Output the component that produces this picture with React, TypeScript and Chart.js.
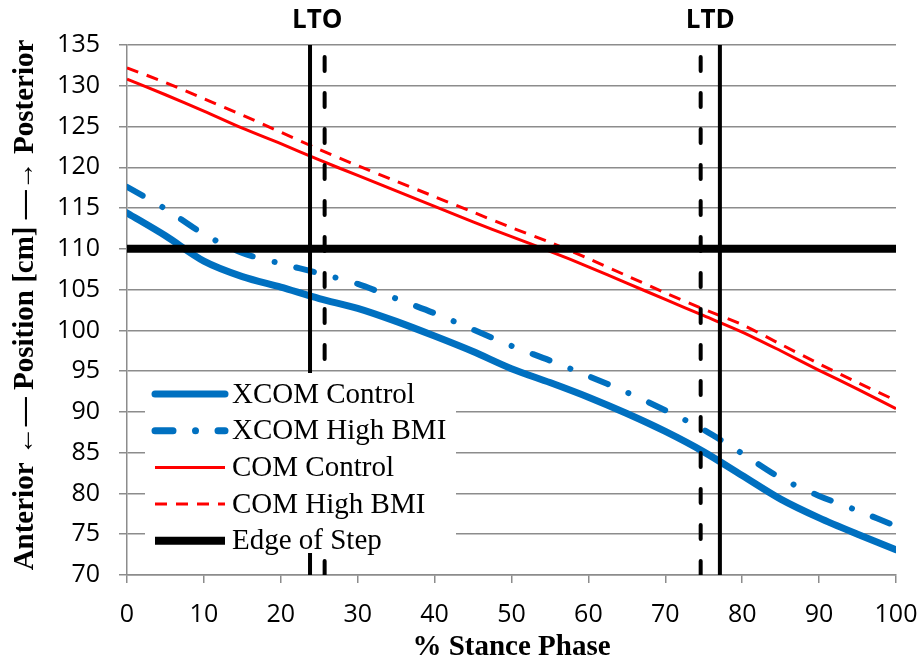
import React, { useEffect, useRef } from "react";
import { Chart, registerables } from "chart.js";

Chart.register(...registerables);

// % of stance phase at which each curve was sampled
const stance = [0, 5, 10, 15, 20, 25, 30, 35, 40, 45, 50, 55, 60, 65, 70, 75, 80, 85, 90, 95, 100];

// Anterior-posterior positions [cm]
const xcomControl = [114.4, 111.6, 108.5, 106.6, 105.3, 103.9, 102.7, 101.1, 99.3, 97.4, 95.3, 93.6, 91.8, 89.8, 87.6, 85.1, 82.2, 79.3, 77.0, 75.0, 73.1];
const xcomHighBmi = [117.6, 114.9, 111.8, 109.5, 108.2, 107.0, 105.7, 103.9, 102.1, 100.1, 98.1, 96.3, 94.4, 92.4, 90.2, 87.8, 84.9, 81.9, 79.7, 77.9, 76.0];
const comControl = [130.8, 128.9, 126.9, 124.8, 122.9, 120.9, 119.0, 117.1, 115.2, 113.3, 111.5, 109.7, 107.8, 105.8, 103.8, 101.8, 99.8, 97.5, 95.1, 92.8, 90.4];
const comHighBmi = [132.2, 130.4, 128.4, 126.4, 124.3, 122.2, 120.2, 118.3, 116.4, 114.5, 112.6, 110.8, 108.8, 106.7, 104.6, 102.6, 100.7, 98.3, 95.9, 93.6, 91.4];

// Edge of the step [cm]
const edgeOfStep = 110;

// Gait events (LTO = lead toe-off, LTD = lead touch-down), % stance
const eventLabels = ["LTO", "LTD"];
const controlEvents = [23.8, 77.1];
const highBmiEvents = [25.7, 74.6];

// Axis ranges
const xMin = 0, xMax = 100, xStep = 10;
const yMin = 70, yMax = 135, yStep = 5;

const BLUE = "#0070C0";
const RED = "#FF0000";
const BLACK = "#000000";
const GRID = "#8c8c8c";
const TICK_FONT = '"Open Sans", sans-serif';

const DASH_DOT = [18, 22.5, 0.01, 22.5];
const RED_DASH = [12, 9];
const EVENT_DASH = [14, 22];

const legendItems = [
  { label: "XCOM Control", color: BLUE, width: 7, dash: [] as number[], cap: "round" as CanvasLineCap },
  { label: "XCOM High BMI", color: BLUE, width: 7, dash: DASH_DOT, cap: "round" as CanvasLineCap },
  { label: "COM Control", color: RED, width: 3, dash: [] as number[], cap: "butt" as CanvasLineCap },
  { label: "COM High BMI", color: RED, width: 3, dash: RED_DASH, cap: "butt" as CanvasLineCap },
  { label: "Edge of Step", color: BLACK, width: 8, dash: [] as number[], cap: "butt" as CanvasLineCap },
];

const toPoints = (ys: number[]) => stance.map((x, i) => ({ x, y: ys[i] }));
const vertical = (x: number) => [{ x, y: yMin }, { x, y: yMax }];

const annotations = {
  id: "annotations",
  afterDatasetsDraw(chart: any) {
    const { ctx, chartArea, scales } = chart;
    const xs = scales.x;
    ctx.save();

    // legend box inside the plot
    const lx = chartArea.left + 18;
    const ly = chartArea.top + 328;
    ctx.fillStyle = "#ffffff";
    ctx.fillRect(lx, ly, 311, 180);
    ctx.font = '29px "Liberation Serif", "Times New Roman", serif';
    ctx.textBaseline = "middle";
    ctx.textAlign = "left";
    legendItems.forEach((item, i) => {
      const y = ly + 21 + i * 36.7;
      ctx.beginPath();
      ctx.strokeStyle = item.color;
      ctx.lineWidth = item.width;
      ctx.lineCap = item.cap;
      ctx.setLineDash(item.dash);
      ctx.moveTo(lx + 10, y);
      ctx.lineTo(lx + 80, y);
      ctx.stroke();
      ctx.setLineDash([]);
      ctx.fillStyle = BLACK;
      ctx.fillText(item.label, lx + 87, y + 1);
    });

    // x tick labels
    ctx.fillStyle = BLACK;
    ctx.textAlign = "center";
    ctx.font = `25px ${TICK_FONT}`;
    for (let v = xMin; v <= xMax; v += xStep) {
      ctx.fillText(String(v), xs.getPixelForValue(v), chartArea.bottom + 40);
    }

    // event labels above the plot
    ctx.font = 'bold 26px "Open Sans", sans-serif';
    eventLabels.forEach((label, i) => {
      const cx = (xs.getPixelForValue(controlEvents[i]) + xs.getPixelForValue(highBmiEvents[i])) / 2;
      ctx.fillText(label, cx, chartArea.top - 24);
    });

    // axis titles
    ctx.font = 'bold 29px "Liberation Serif", "Times New Roman", serif';
    ctx.fillText("% Stance Phase", (chartArea.left + chartArea.right) / 2, 648);
    ctx.translate(26, (chartArea.top + chartArea.bottom) / 2 - 5);
    ctx.rotate(-Math.PI / 2);
    ctx.fillText("Anterior ←— Position [cm] —→ Posterior", 0, 0);
    ctx.restore();
  },
};

export default function App() {
  const canvasRef = useRef<HTMLCanvasElement | null>(null);

  useEffect(() => {
    document.body.style.margin = "0";
    const canvas = canvasRef.current;
    if (!canvas) return;

    const chart = new Chart(canvas, {
      type: "line",
      data: {
        datasets: [
          ...controlEvents.map((x, i) => ({
            label: eventLabels[i] + " Control",
            data: vertical(x),
            borderColor: BLACK,
            borderWidth: 4,
            pointRadius: 0,
            order: 0,
          })),
          ...highBmiEvents.map((x, i) => ({
            label: eventLabels[i] + " High BMI",
            data: vertical(x),
            borderColor: BLACK,
            borderWidth: 4,
            borderDash: EVENT_DASH,
            borderCapStyle: "round",
            pointRadius: 0,
            order: 0,
          })),
          {
            label: "Edge of Step",
            data: [{ x: xMin, y: edgeOfStep }, { x: xMax, y: edgeOfStep }],
            borderColor: BLACK,
            borderWidth: 8,
            pointRadius: 0,
            order: 0,
          },
          {
            label: "COM High BMI",
            data: toPoints(comHighBmi),
            borderColor: RED,
            borderWidth: 3,
            borderDash: RED_DASH,
            pointRadius: 0,
            tension: 0.3,
            order: 1,
          },
          {
            label: "COM Control",
            data: toPoints(comControl),
            borderColor: RED,
            borderWidth: 3,
            pointRadius: 0,
            tension: 0.3,
            order: 1,
          },
          {
            label: "XCOM High BMI",
            data: toPoints(xcomHighBmi),
            borderColor: BLUE,
            borderWidth: 6,
            borderDash: DASH_DOT,
            borderCapStyle: "round",
            pointRadius: 0,
            tension: 0.3,
            order: 2,
          },
          {
            label: "XCOM Control",
            data: toPoints(xcomControl),
            borderColor: BLUE,
            borderWidth: 7,
            borderCapStyle: "round",
            pointRadius: 0,
            tension: 0.3,
            order: 2,
          },
        ] as any,
      },
      options: {
        responsive: false,
        animation: false,
        devicePixelRatio: 1,
        layout: { padding: { top: 45, right: 23, bottom: 0, left: 0 } },
        plugins: {
          legend: { display: false },
          tooltip: { enabled: false },
          title: { display: false },
        },
        scales: {
          x: {
            type: "linear",
            min: xMin,
            max: xMax,
            afterFit: (s: any) => { s.height = 91; },
            ticks: { stepSize: xStep, display: false },
            grid: { drawOnChartArea: false, drawTicks: true, tickLength: 8, color: GRID, lineWidth: 1.5 },
            border: { color: GRID, width: 1.5 },
          },
          y: {
            type: "linear",
            min: yMin,
            max: yMax,
            afterFit: (s: any) => { s.width = 127; },
            ticks: {
              stepSize: yStep,
              color: BLACK,
              padding: 19,
              font: { family: TICK_FONT, size: 25 },
            },
            grid: { color: GRID, lineWidth: 1.5, tickLength: 8 },
            border: { color: GRID, width: 1.5 },
          },
        },
      } as any,
      plugins: [annotations],
    });

    return () => chart.destroy();
  }, []);

  return (
    <div style={{ width: 919, height: 666, background: "#ffffff" }}>
      <canvas ref={canvasRef} width={919} height={666} />
    </div>
  );
}
